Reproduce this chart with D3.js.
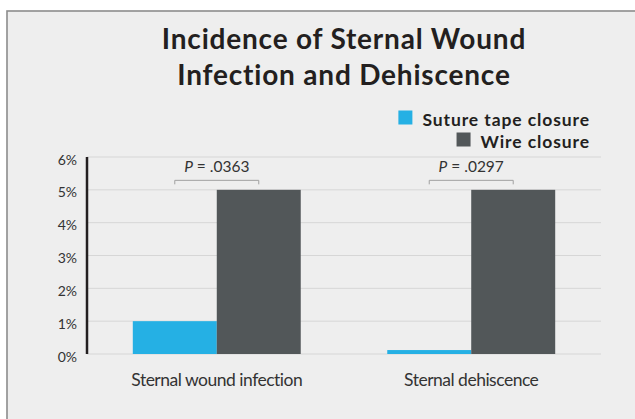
<!DOCTYPE html>
<html>
<head>
<meta charset="utf-8">
<script src="https://cdn.jsdelivr.net/npm/d3@7"></script>
<style>
  body { margin: 0; background: #fff; }
  svg { display: block; font-family: Lato, "Open Sans", sans-serif; }
</style>
</head>
<body>
<svg id="chart" width="635" height="419"></svg>
<script>
const categories = ["Sternal wound infection", "Sternal dehiscence"];
const seriesNames = ["Suture tape closure", "Wire closure"];
const sutureValues = [1.0, 0.12];
const wireValues = [5.0, 5.0];
const pValues = [".0363", ".0297"];
const yTicks = [0, 1, 2, 3, 4, 5, 6];
const colors = ["#25b0e4", "#525759"];

const svg = d3.select("#chart");
const margin = {top: 157, right: 34, bottom: 65, left: 87};
const width = +svg.attr("width");
const height = +svg.attr("height");
const innerW = width - margin.left - margin.right;
const innerH = height - margin.top - margin.bottom;

// panel
svg.append("rect")
  .attr("x", 7).attr("y", 11)
  .attr("width", 640).attr("height", 420)
  .attr("fill", "#eeeeee")
  .attr("stroke", "#8c8c8c")
  .attr("stroke-width", 1.6);

// title
const title = svg.append("text")
  .attr("text-anchor", "middle")
  .attr("font-weight", "bold")
  .attr("font-size", 28)
  .attr("letter-spacing", 0.8)
  .attr("fill", "#231f20");
title.append("tspan").attr("x", 344).attr("y", 49).text("Incidence of Sternal Wound");
title.append("tspan").attr("x", 344).attr("y", 85).text("Infection and Dehiscence");

// legend
const legend = svg.append("g").attr("transform", "translate(590,0)");
seriesNames.forEach((name, i) => {
  const row = legend.append("g").attr("transform", `translate(0,${125.5 + i * 22})`);
  const t = row.append("text")
    .attr("text-anchor", "end")
    .attr("font-weight", "bold")
    .attr("font-size", 17.5)
    .attr("letter-spacing", 0.9)
    .attr("fill", "#231f20")
    .text(name);
  const w = t.node().getComputedTextLength();
  row.append("rect")
    .attr("x", -w - 24).attr("y", -15)
    .attr("width", 14).attr("height", 14)
    .attr("fill", colors[i]);
});

const g = svg.append("g").attr("transform", `translate(${margin.left},${margin.top})`);

// scales
const x = d3.scaleBand()
  .domain(categories)
  .range([0, innerW])
  .paddingInner(0.34)
  .paddingOuter(0.18);

const xs = d3.scaleBand()
  .domain(seriesNames)
  .range([0, x.bandwidth()]);

const y = d3.scaleLinear()
  .domain([0, 6])
  .range([innerH, 0]);

// gridlines
g.append("g")
  .selectAll("line")
  .data(yTicks)
  .join("line")
    .attr("x1", 0).attr("x2", innerW)
    .attr("y1", d => y(d)).attr("y2", d => y(d))
    .attr("stroke", "#d6d6d6")
    .attr("stroke-width", 1);

// y axis
const yAxis = d3.axisLeft(y)
  .tickValues(yTicks)
  .tickFormat(d => d + "%")
  .tickSize(0)
  .tickPadding(10);

const yg = g.append("g").call(yAxis);
yg.select(".domain").remove();
yg.selectAll("text")
  .attr("font-family", "Lato, sans-serif")
  .attr("font-size", 14)
  .attr("dy", "0.5em")
  .attr("fill", "#333");

g.append("line")
  .attr("x1", 0).attr("x2", 0)
  .attr("y1", y(6)).attr("y2", y(0))
  .attr("stroke", "#231f20")
  .attr("stroke-width", 2.5);

// bars
const rows = categories.map((c, i) => ({cat: c, vals: [sutureValues[i], wireValues[i]], p: pValues[i]}));

const groups = g.selectAll(".grp")
  .data(rows)
  .join("g")
    .attr("class", "grp")
    .attr("transform", d => `translate(${x(d.cat)},0)`);

groups.selectAll("rect")
  .data(d => d.vals.map((v, j) => ({series: seriesNames[j], v, j})))
  .join("rect")
    .attr("x", d => xs(d.series))
    .attr("y", d => y(d.v))
    .attr("width", xs.bandwidth())
    .attr("height", d => innerH - y(d.v))
    .attr("fill", d => colors[d.j]);

// p-value brackets
const bx1 = xs(seriesNames[0]) + xs.bandwidth() / 2;
const bx2 = xs(seriesNames[1]) + xs.bandwidth() / 2;
const by = y(5) - 9.5;

groups.append("path")
  .attr("d", `M${bx1},${by + 4}V${by}H${bx2}V${by + 4}`)
  .attr("fill", "none")
  .attr("stroke", "#a0a0a0")
  .attr("stroke-width", 1);

const pt = groups.append("text")
  .attr("x", x.bandwidth() / 2)
  .attr("y", y(5) - 17.5)
  .attr("text-anchor", "middle")
  .attr("font-size", 15.5)
  .attr("fill", "#333");
pt.append("tspan").attr("font-style", "italic").text("P");
pt.append("tspan").text(d => " = " + d.p);

// x labels
const xAxis = d3.axisBottom(x).tickSize(0).tickPadding(20);
const xg = g.append("g").attr("transform", `translate(0,${innerH})`).call(xAxis);
xg.select(".domain").remove();
xg.selectAll("text")
  .attr("font-family", "Lato, sans-serif")
  .attr("font-size", 17.5)
  .attr("letter-spacing", -0.5)
  .attr("fill", "#333");
</script>
</body>
</html>
